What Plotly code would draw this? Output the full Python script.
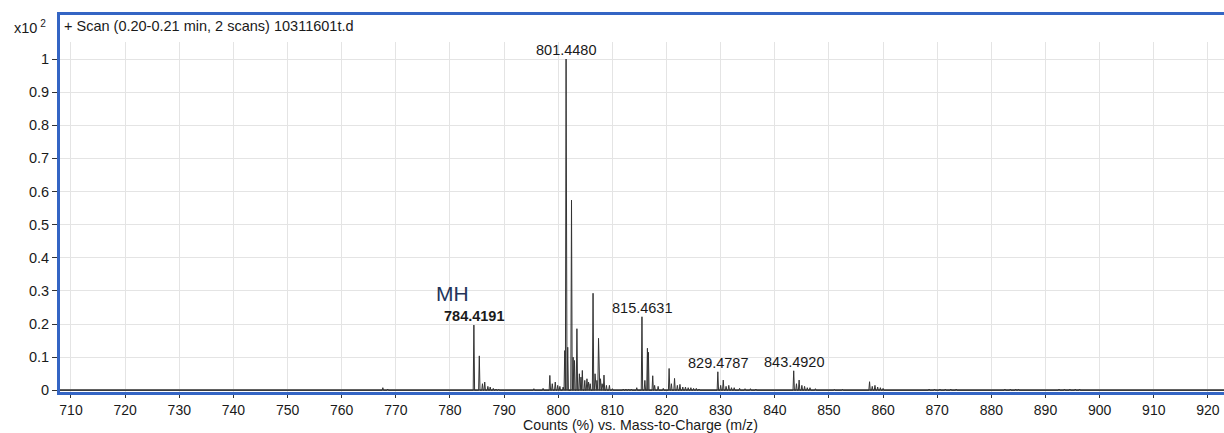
import plotly.graph_objects as go

# ---------------- data ----------------
peak_mz = [
    767.6, 768.5,
    784.4191, 785.42, 786.0, 786.42, 787.0, 787.43, 788.0, 788.5, 789.0,
    795.5, 797.2, 798.45, 798.9, 799.45, 799.9, 800.3, 800.9,
    801.2, 801.448, 801.75, 802.45, 802.75, 803.0, 803.45, 803.9, 804.2, 804.45,
    804.9, 805.3, 805.6, 805.9, 806.43, 806.8, 807.15, 807.44, 807.8, 808.1,
    808.45, 808.9, 809.45, 810.0, 812.0, 812.5, 813.0, 813.5, 814.5,
    815.4631, 816.0, 816.47, 816.65, 817.45, 817.8, 818.45, 819.4,
    820.48, 820.9, 821.48, 822.0, 822.48, 823.0, 823.5, 824.0, 824.5, 825.0, 825.5, 826.0,
    829.4787, 830.0, 830.48, 831.0, 831.5, 832.0, 832.5, 833.5, 834.5, 835.5, 836.5,
    843.492, 844.0, 844.49, 845.0, 845.5, 846.0, 846.5, 847.5, 851.0, 852.5,
    857.5, 858.0, 858.5, 859.0, 859.5, 860.0,
    868.5, 869.5, 870.5, 871.5, 872.5, 873.5,
    882.5, 883.5, 884.5, 885.0,
    892.5, 893.5, 894.5, 895.5, 896.3,
]
peak_intensity = [
    0.008, 0.004,
    0.197, 0.104, 0.020, 0.025, 0.012, 0.010, 0.006, 0.004, 0.003,
    0.005, 0.006, 0.045, 0.020, 0.025, 0.015, 0.012, 0.010,
    0.120, 1.000, 0.130, 0.574, 0.100, 0.090, 0.186, 0.050, 0.040, 0.060,
    0.030, 0.035, 0.025, 0.020, 0.293, 0.050, 0.030, 0.157, 0.035, 0.020,
    0.046, 0.015, 0.015, 0.005, 0.004, 0.004, 0.004, 0.004, 0.008,
    0.222, 0.030, 0.127, 0.115, 0.044, 0.015, 0.012, 0.006,
    0.066, 0.020, 0.036, 0.015, 0.018, 0.010, 0.010, 0.008, 0.008, 0.006, 0.006, 0.004,
    0.056, 0.015, 0.031, 0.012, 0.015, 0.008, 0.008, 0.006, 0.005, 0.005, 0.004,
    0.059, 0.020, 0.031, 0.015, 0.012, 0.008, 0.008, 0.005, 0.003, 0.003,
    0.026, 0.012, 0.015, 0.010, 0.008, 0.006,
    0.004, 0.004, 0.004, 0.004, 0.004, 0.004,
    0.004, 0.004, 0.004, 0.004,
    0.004, 0.004, 0.004, 0.004, 0.004,
]

x_ticks = [710, 720, 730, 740, 750, 760, 770, 780, 790, 800, 810, 820, 830,
           840, 850, 860, 870, 880, 890, 900, 910, 920]
y_ticks = [0, 0.1, 0.2, 0.3, 0.4, 0.5, 0.6, 0.7, 0.8, 0.9, 1.0]
y_tick_labels = ["0", "0.1", "0.2", "0.3", "0.4", "0.5", "0.6", "0.7", "0.8", "0.9", "1"]

labelled_mz = [801.448, 784.4191, 815.4631, 829.4787, 843.492]
labelled_text = ["801.4480", "784.4191", "815.4631", "829.4787", "843.4920"]
labelled_height = [1.000, 0.197, 0.222, 0.056, 0.059]

title_text = "+ Scan (0.20-0.21 min, 2 scans) 10311601t.d"
x_title = "Counts (%) vs. Mass-to-Charge (m/z)"
ion_label = "MH"

# ---------------- build profile polyline from peak list ----------------
HALF = 0.13
xs, ys = [707.9], [0.0]
for m, h in sorted(zip(peak_mz, peak_intensity)):
    xs += [m - HALF, m, m + HALF]
    ys += [0.0, h, 0.0]
xs.append(923.0)
ys.append(0.0)

FONT = "Liberation Sans, Arial, Helvetica, sans-serif"
BLUE = "#3465c4"
TXT = "#1a1a1a"
FS = 14.5

W, H = 1224, 433
L, R, T, B = 60, 0, 42, 41
PW, PH = W - L - R, H - T - B

def px_x(p):
    return (p - L) / PW

def px_y(p):
    return (H - B - p) / PH

fig = go.Figure()
fig.add_trace(go.Scatter(
    x=xs, y=ys, mode="lines",
    line=dict(color="#333333", width=1),
    hoverinfo="skip", showlegend=False,
))

annotations = []
for m, t, h in zip(labelled_mz, labelled_text, labelled_height):
    annotations.append(dict(
        x=m, y=h, xref="x", yref="y", text=("<b>" + t + "</b>") if t == "784.4191" else t,
        showarrow=False, xanchor="center", yanchor="middle", yshift=9,
        font=dict(family=FONT, size=FS, color=TXT),
    ))
annotations.append(dict(
    x=784.4191, y=0.197, xref="x", yref="y", text=ion_label, showarrow=False,
    xanchor="center", yanchor="middle", xshift=-21, yshift=32,
    font=dict(family=FONT, size=21, color="#24345a"),
))
annotations.append(dict(
    x=px_x(62), y=px_y(26), xref="paper", yref="paper", text=title_text,
    showarrow=False, xanchor="left", yanchor="middle",
    font=dict(family=FONT, size=FS, color=TXT),
))
annotations.append(dict(
    x=px_x(48), y=px_y(27), xref="paper", yref="paper", text="x10<sup> 2</sup>",
    showarrow=False, xanchor="right", yanchor="middle",
    font=dict(family=FONT, size=14.5, color=TXT),
))
annotations.append(dict(
    x=px_x(640), y=px_y(425), xref="paper", yref="paper", text=x_title,
    showarrow=False, xanchor="center", yanchor="middle",
    font=dict(family=FONT, size=14.2, color=TXT),
))

shapes = [
    # top border of the frame (header band)
    dict(type="line", xref="paper", yref="paper",
         x0=px_x(57), x1=1.02, y0=px_y(13.5), y1=px_y(13.5),
         line=dict(color=BLUE, width=3), layer="above"),
    # left border extension into header band
    dict(type="line", xref="paper", yref="paper",
         x0=px_x(58.5), x1=px_x(58.5), y0=1.0, y1=px_y(12),
         line=dict(color=BLUE, width=3), layer="above"),
]

fig.update_layout(
    width=W, height=H,
    margin=dict(l=L, r=R, t=T, b=B, pad=0),
    paper_bgcolor="white", plot_bgcolor="white",
    font=dict(family=FONT, size=FS, color=TXT),
    showlegend=False,
    annotations=annotations,
    shapes=shapes,
    xaxis=dict(
        range=[707.97, 922.97], tickvals=x_ticks, ticktext=[str(v) for v in x_ticks],
        showgrid=True, gridcolor="#e4e4e4", gridwidth=1,
        showline=True, linecolor=BLUE, linewidth=3,
        ticks="outside", ticklen=3, tickcolor="#333333", tickwidth=1,
        tickfont=dict(family=FONT, size=14, color=TXT),
        zeroline=False, fixedrange=True,
    ),
    yaxis=dict(
        range=[-0.005, 1.0513], tickvals=y_ticks, ticktext=y_tick_labels,
        showgrid=True, gridcolor="#e4e4e4", gridwidth=1,
        showline=True, linecolor=BLUE, linewidth=3,
        ticks="outside", ticklen=5, tickcolor="#333333", tickwidth=1,
        tickfont=dict(family=FONT, size=FS, color=TXT),
        zeroline=True, zerolinecolor="#6b6b6b", zerolinewidth=2,
        fixedrange=True,
    ),
)

fig.write_html("out.html")
